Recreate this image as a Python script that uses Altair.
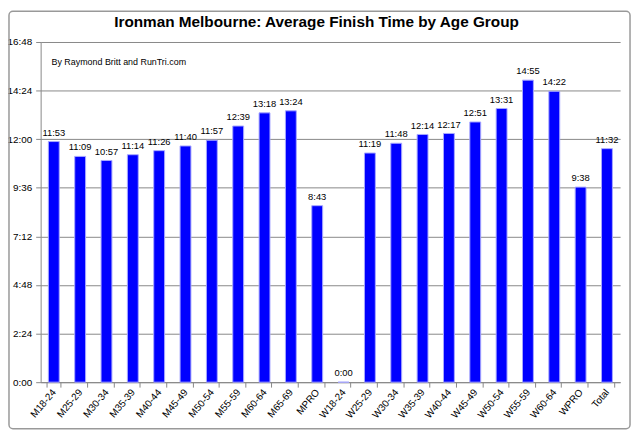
import altair as alt
import pandas as pd

categories = ["M18-24", "M25-29", "M30-34", "M35-39", "M40-44", "M45-49", "M50-54",
              "M55-59", "M60-64", "M65-69", "MPRO", "W18-24", "W25-29", "W30-34",
              "W35-39", "W40-44", "W45-49", "W50-54", "W55-59", "W60-64", "WPRO", "Total"]
times = ["11:53", "11:09", "10:57", "11:14", "11:26", "11:40", "11:57",
         "12:39", "13:18", "13:24", "8:43", "0:00", "11:19", "11:48",
         "12:14", "12:17", "12:51", "13:31", "14:55", "14:22", "9:38", "11:32"]
tick_minutes = [0, 144, 288, 432, 576, 720, 864, 1008]
title_text = "Ironman Melbourne: Average Finish Time by Age Group"
credit_text = "By Raymond Britt and RunTri.com"


def to_min(s):
    h, m = s.split(":")
    return int(h) * 60 + int(m)


df = pd.DataFrame({"group": categories, "label": times,
                   "minutes": [to_min(t) for t in times]})

W, H = 586, 344
FONT = "Liberation Sans"

label_expr = ("floor(datum.value/60) + ':' + (datum.value%60 < 10 ? '0' : '') + (datum.value%60)")

x = alt.X("group:N", sort=categories, title=None,
          scale=alt.Scale(paddingInner=0.47, paddingOuter=0.235),
          axis=alt.Axis(labelAngle=-50, labelFontSize=10, labelColor="#000",
                        labelFont=FONT, domainColor="#888", tickColor="#888",
                        tickBand="extent", tickSize=5, labelPadding=3))
y = alt.Y("minutes:Q", title=None,
          scale=alt.Scale(domain=[0, 1008], nice=False),
          axis=alt.Axis(values=tick_minutes, labelExpr=label_expr, labelFontSize=10,
                        labelColor="#000", labelFont=FONT, domainColor="#888",
                        tickColor="#888", tickSize=5, gridColor="#888",
                        gridWidth=1, labelPadding=4))

bars = alt.Chart(df).mark_bar(color="#0000FF", size=11, stroke="#a8a8ff",
                              strokeWidth=1).encode(x=x, y=y)
text = alt.Chart(df).mark_text(dy=-9, fontSize=9.5, font=FONT, color="#000").encode(
    x=alt.X("group:N", sort=categories), y="minutes:Q", text="label:N")

note = alt.Chart(pd.DataFrame({"t": [credit_text]})).mark_text(
    align="left", fontSize=9, font=FONT, color="#000").encode(
    x=alt.value(11), y=alt.value(20), text="t:N")

title = alt.Chart(pd.DataFrame({"t": [title_text]})).mark_text(
    align="center", baseline="middle", fontSize=15.5, font=FONT, fontWeight="bold",
    color="#000").encode(x=alt.value(279), y=alt.value(-20), text="t:N")

border = alt.Chart(pd.DataFrame({"a": [0]})).mark_rect(
    fill=None, stroke="#999", strokeWidth=1.5, cornerRadius=4, clip=False).encode(
    x=alt.value(-32), x2=alt.value(W + 10), y=alt.value(-31), y2=alt.value(H + 47))

chart = alt.layer(bars, text, note, title, border).properties(
    width=W, height=H,
    autosize=alt.AutoSizeParams(type="none"),
    padding={"left": 33, "top": 32, "right": 12, "bottom": 48},
).configure_view(stroke=None).configure_axisX(grid=False)

chart.save("out.html", embed_options={"renderer": "svg", "actions": False})
